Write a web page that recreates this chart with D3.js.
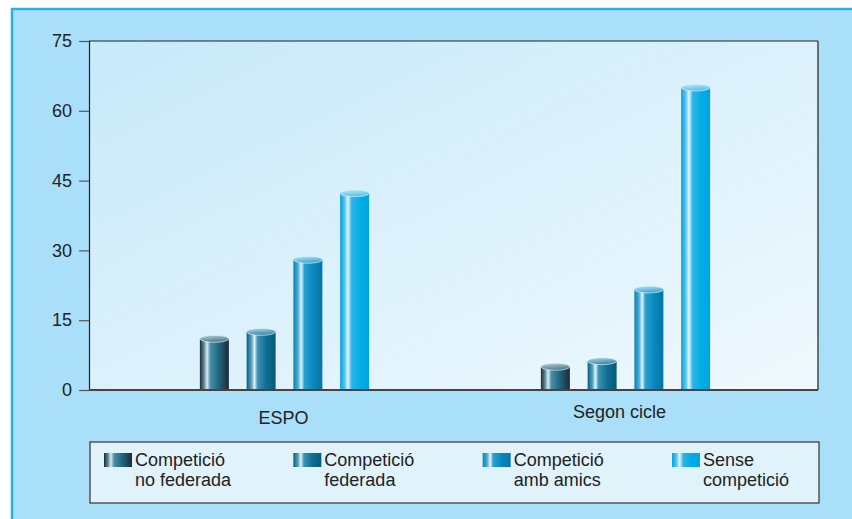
<!DOCTYPE html>
<html><head><meta charset="utf-8">
<script src="https://cdn.jsdelivr.net/npm/d3@7"></script>
<style>html,body{margin:0;padding:0;background:#fff;}svg{display:block;font-family:"Liberation Sans",Arial,Helvetica,sans-serif;}</style>
</head><body>
<svg id="c" width="852" height="519"></svg>
<script>
const categories = ["ESPO", "Segon cicle"];
const seriesNames = ["Competició no federada", "Competició federada", "Competició amb amics", "Sense competició"];
const legendLines = [["Competició", "no federada"], ["Competició", "federada"], ["Competició", "amb amics"], ["Sense", "competició"]];
const valuesESPO = [11, 12.5, 28, 42.3];
const valuesSegon = [5, 6.2, 21.6, 65];
const yTicks = [0, 15, 30, 45, 60, 75];

const data = categories.map((c, i) => ({cat: c, vals: [valuesESPO, valuesSegon][i]}));

const gradStops = [
  [["0%","#1c2a33"],["14%","#5d8594"],["25%","#d6edf4"],["36%","#4a8ea6"],["62%","#226a84"],["100%","#1c2b35"]],
  [["0%","#0a5e80"],["16%","#4f9fbb"],["27%","#dff2f8"],["38%","#3a92b2"],["68%","#0e6e93"],["100%","#0a587a"]],
  [["0%","#0a80b5"],["16%","#47acd6"],["27%","#def4fc"],["38%","#28a0d0"],["68%","#0a88bd"],["100%","#0674a6"]],
  [["0%","#00a2dc"],["16%","#5ac5ec"],["27%","#e4f6fd"],["40%","#2db4e8"],["68%","#00aee6"],["100%","#00a4dd"]]
];
const topColors = [["#b7d2dc","#4f7d8d"],["#b5dbe9","#3b89a8"],["#bfe6f6","#3ca7d4"],["#c6ebfa","#55c2ec"]];

const svg = d3.select("#c");
const defs = svg.append("defs");
gradStops.forEach((st, i) => {
  const g = defs.append("linearGradient").attr("id", "cyl" + i).attr("x1", "0%").attr("x2", "100%").attr("y1", "0%").attr("y2", "0%");
  st.forEach(s => g.append("stop").attr("offset", s[0]).attr("stop-color", s[1]));
  const t = defs.append("linearGradient").attr("id", "top" + i).attr("x1", "0%").attr("x2", "30%").attr("y1", "0%").attr("y2", "100%");
  t.append("stop").attr("offset", "0%").attr("stop-color", topColors[i][0]);
  t.append("stop").attr("offset", "100%").attr("stop-color", topColors[i][1]);
});
const bg = defs.append("linearGradient").attr("id", "plotbg").attr("x1", "0%").attr("y1", "0%").attr("x2", "100%").attr("y2", "100%");
bg.append("stop").attr("offset", "0%").attr("stop-color", "#c7e9f9");
bg.append("stop").attr("offset", "100%").attr("stop-color", "#f0f9fe");

// outer frame
svg.append("rect").attr("x", 12).attr("y", 9).attr("width", 852).attr("height", 520).attr("fill", "#a9dff9").attr("stroke", "#25b2e9").attr("stroke-width", 2.5);

const L = 89, R = 818, T = 41, B = 390;
svg.append("rect").attr("x", L).attr("y", T).attr("width", R - L).attr("height", B - T).attr("fill", "url(#plotbg)");

const y = d3.scaleLinear().domain([0, 75]).range([B, T]);
const x0 = d3.scaleBand().domain(categories).range([114, 796]);
const x1 = d3.scaleBand().domain(seriesNames).range([-93.5, 93.5]).paddingInner(0.38).paddingOuter(0.19);

// frame lines
svg.append("line").attr("x1", L).attr("x2", R).attr("y1", T).attr("y2", T).attr("stroke", "#222").attr("stroke-width", 1.2);
svg.append("line").attr("x1", R).attr("x2", R).attr("y1", T).attr("y2", B).attr("stroke", "#444").attr("stroke-width", 1.5);

// y axis
const yAxis = svg.append("g").attr("transform", `translate(${L},0)`)
  .call(d3.axisLeft(y).tickValues(yTicks).tickSize(10).tickPadding(7));
yAxis.select(".domain").attr("stroke", "#222").attr("stroke-width", 1.2);
yAxis.selectAll(".tick line").attr("stroke", "#555").attr("stroke-width", 1.2);
yAxis.selectAll(".tick text").attr("font-size", 18).attr("fill", "#222").attr("font-family", "Liberation Sans, Arial, sans-serif");

// bars
const ry = 3.5;
const groups = svg.append("g").selectAll("g").data(data).join("g")
  .attr("transform", d => `translate(${x0(d.cat) + x0.bandwidth() / 2},0)`);
groups.each(function(d) {
  const g = d3.select(this);
  d.vals.forEach((v, i) => {
    const bx = x1(seriesNames[i]), bw = x1.bandwidth();
    g.append("rect").attr("x", bx).attr("y", y(v)).attr("width", bw).attr("height", B - y(v)).attr("fill", `url(#cyl${i})`);
    g.append("ellipse").attr("cx", bx + bw / 2).attr("cy", y(v)).attr("rx", bw / 2).attr("ry", ry)
      .attr("fill", `url(#top${i})`).attr("stroke", "#e8f6fb").attr("stroke-width", 0.8).attr("stroke-opacity", 0.8);
  });
});

// x axis line
svg.append("line").attr("x1", L).attr("x2", R).attr("y1", B).attr("y2", B).attr("stroke", "#444").attr("stroke-width", 2);

// category labels
svg.append("g").selectAll("text").data(categories).join("text")
  .attr("x", (d, i) => x0(d) + x0.bandwidth() / 2 - (i === 0 ? 1 : 6))
  .attr("y", (d, i) => i === 0 ? 424 : 418).attr("text-anchor", "middle")
  .attr("font-size", 18).attr("fill", "#222").text(d => d);

// legend
svg.append("rect").attr("x", 90).attr("y", 442).attr("width", 729).attr("height", 61).attr("fill", "#e0f3fb").attr("stroke", "#333").attr("stroke-width", 1.2);
const lx = d3.scalePoint().domain(seriesNames).range([104, 672]);
const li = svg.append("g").selectAll("g").data(seriesNames).join("g").attr("transform", d => `translate(${lx(d)},453)`);
li.append("rect").attr("width", 28).attr("height", 14).attr("fill", (d, i) => `url(#cyl${i})`);
const lt = li.append("text").attr("font-size", 18).attr("fill", "#222");
lt.append("tspan").attr("x", 31).attr("y", 12.8).text((d, i) => legendLines[i][0]);
lt.append("tspan").attr("x", 31).attr("y", 33).text((d, i) => legendLines[i][1]);
</script>
</body></html>
